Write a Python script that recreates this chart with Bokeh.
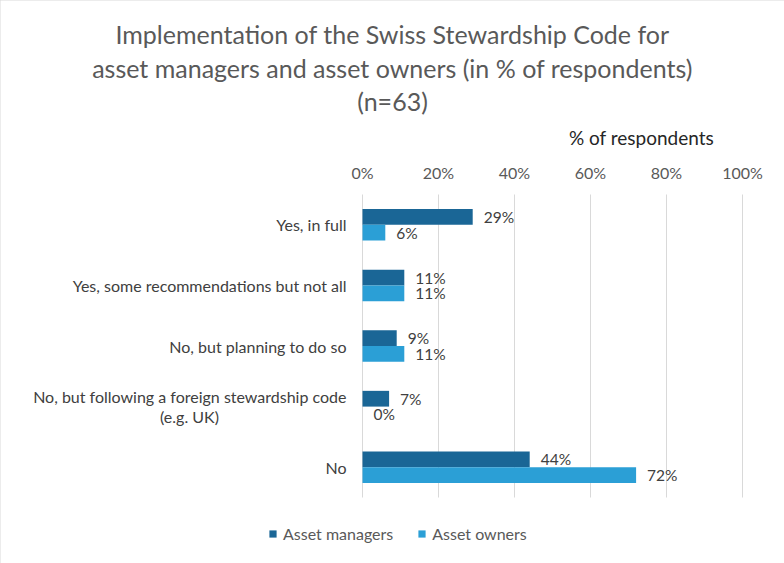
from bokeh.plotting import figure
from bokeh.models import Range1d, Legend, LegendItem, ColumnDataSource
from bokeh.core.properties import value
from bokeh.embed import file_html
from bokeh.resources import INLINE

# --- data -----------------------------------------------------------------
categories = [
    "Yes, in full",
    "Yes, some recommendations but not all",
    "No, but planning to do so",
    "No, but following a foreign stewardship code\n(e.g. UK)",
    "No",
]
asset_managers = [29, 11, 9, 7, 44]
asset_owners = [6, 11, 11, 0, 72]
series_names = ["Asset managers", "Asset owners"]
tick_values = [0, 20, 40, 60, 80, 100]
tick_labels = ["0%", "20%", "40%", "60%", "80%", "100%"]
title_lines = [
    "Implementation of the Swiss Stewardship Code for",
    "asset managers and asset owners (in % of respondents)",
    "(n=63)",
]
axis_title = "% of respondents"

# --- layout ---------------------------------------------------------------
W, H = 784, 563
PLOT_L, PLOT_R, PLOT_T, PLOT_B = 362, 742, 194, 497   # bar area in pixels
FONT = "Lato"
DARK = "#1A6696"
LIGHT = "#2B9FD6"
GRID = "#D9D9D9"
n = len(categories)

x_min, x_max = tick_values[0], tick_values[-1]
px_per_x = (PLOT_R - PLOT_L) / (x_max - x_min)
px_per_y = (PLOT_B - PLOT_T) / n


def to_x(px):
    return x_min + (px - PLOT_L) / px_per_x


def to_y(py):
    # categories run top to bottom: 0 at the top of the bar area
    return (py - PLOT_T) / px_per_y


# The frame covers the whole canvas so that titles, category names and the
# legend can sit around the bar area without being clipped.
p = figure(
    width=W, height=H,
    output_backend="svg", toolbar_location=None,
    x_range=Range1d(to_x(0), to_x(W)),
    y_range=Range1d(to_y(H), to_y(0)),
    x_axis_location=None, y_axis_location=None,
    min_border=0,
)
p.styles = {"outline": "1px solid #D9D9D9", "outline-offset": "-1px"}
p.outline_line_color = None
p.grid.visible = False
p.background_fill_color = "white"
p.border_fill_color = "white"

# --- value axis (top) -----------------------------------------------------
p.segment(x0=tick_values, x1=tick_values, y0=0, y1=n,
          line_color=GRID, line_width=1)
p.text(x=tick_values, y=[to_y(172)] * len(tick_values), text=tick_labels,
       text_align="center", text_baseline="middle",
       text_font=value(FONT), text_font_size="16px", text_color="#595959")
p.text(x=[to_x(641)], y=[to_y(137)], text=[axis_title],
       text_align="center", text_baseline="middle",
       text_font=value(FONT), text_font_size="19px", text_color="#262626")

# --- bars -----------------------------------------------------------------
bar_h = 0.26
centers = [i + 0.5 for i in range(n)]
src = ColumnDataSource(dict(
    y_am=[c - bar_h / 2 for c in centers],
    y_ao=[c + bar_h / 2 for c in centers],
    am=asset_managers,
    ao=asset_owners,
    am_txt=[f"{v}%" for v in asset_managers],
    ao_txt=[f"{v}%" for v in asset_owners],
))

r_am = p.hbar(y="y_am", left=0, right="am", height=bar_h, source=src,
              fill_color=DARK, line_color=None)
r_ao = p.hbar(y="y_ao", left=0, right="ao", height=bar_h, source=src,
              fill_color=LIGHT, line_color=None)

for xcol, ycol, tcol in [("am", "y_am", "am_txt"), ("ao", "y_ao", "ao_txt")]:
    p.text(x=xcol, y=ycol, text=tcol, source=src,
           x_offset=11, text_baseline="middle", text_align="left",
           text_font=value(FONT), text_font_size="15.5px", text_color="#404040")

# --- category names -------------------------------------------------------
line_gap = 10 / px_per_y
for c, label in zip(centers, categories):
    lines = label.split("\n")
    if len(lines) == 1:
        p.text(x=[to_x(346)], y=[c], text=[label], text_align="right",
               text_baseline="middle", text_font=value(FONT),
               text_font_size="16px", text_color="#404040")
    else:
        p.text(x=[to_x(346)], y=[c - line_gap], text=[lines[0]],
               text_align="right", text_baseline="middle",
               text_font=value(FONT), text_font_size="16px",
               text_color="#404040")
        p.text(x=[to_x(189)], y=[c + line_gap], text=[lines[1]],
               text_align="center", text_baseline="middle",
               text_font=value(FONT), text_font_size="16px",
               text_color="#404040")

# --- chart title ----------------------------------------------------------
p.text(x=[to_x(W / 2)] * len(title_lines),
       y=[to_y(py) for py in (33, 67, 100)], text=title_lines,
       text_align="center", text_baseline="middle",
       text_font=value(FONT), text_font_size="25px", text_color="#595959")

# --- legend ---------------------------------------------------------------
legend = Legend(
    items=[LegendItem(label=series_names[0], renderers=[r_am]),
           LegendItem(label=series_names[1], renderers=[r_ao])],
    orientation="horizontal", location=(268, H - 543),
    padding=0, margin=0, spacing=24, label_standoff=6,
    glyph_width=9, glyph_height=9,
    border_line_color=None, background_fill_alpha=0,
    label_text_font=FONT, label_text_font_size="16px",
    label_text_color="#595959",
)
p.add_layout(legend, "center")

open("out.html", "w").write(file_html(p, INLINE))
